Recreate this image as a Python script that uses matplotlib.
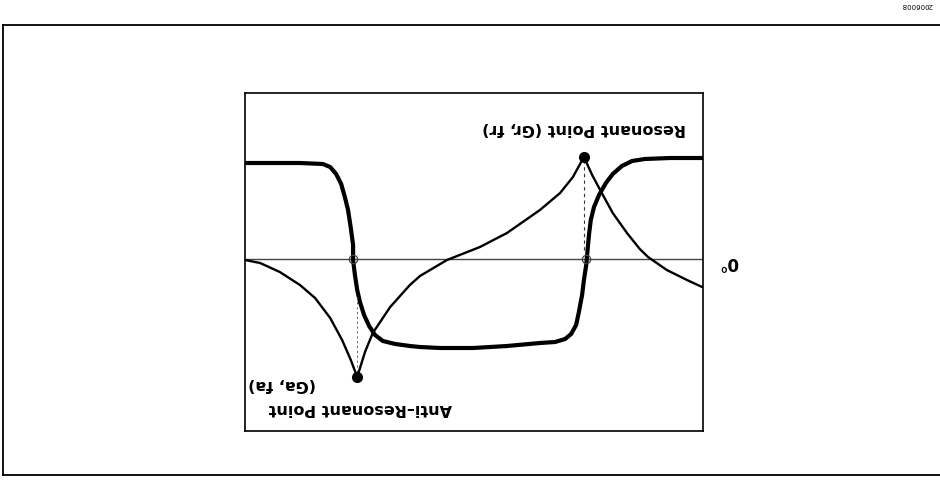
import numpy as np
import matplotlib
matplotlib.use("Agg")
import matplotlib.pyplot as plt

# the scanned page is upside down, so the chart is drawn upright
# (frequency left->right, phase up) and both axes are inverted

# phase curve (heavy line), normalised frequency 0..100 vs degrees
freq_phase = [0.2, 7.2, 12.7, 15.5, 17.7, 19.7, 21.2, 22.7, 23.8, 24.5, 24.9,
              25.3, 25.5, 26.0, 26.4, 27.1, 27.7, 28.8, 30.1, 32.3, 35.6,
              42.8, 50.2, 57.4, 61.8, 64.0, 67.2, 69.9, 71.6, 72.9, 74.0,
              74.9, 75.5, 76.0, 76.4, 76.4, 76.9, 77.5, 78.2, 79.0, 80.1,
              81.4, 83.0, 88.0, 100.0]
phase = [-90.9, -90.9, -90.0, -88.2, -83.7, -76.5, -68.4, -57.6, -46.8, -35.1, -21.6,
         -3.6, 5.4, 18.9, 32.4, 47.7, 59.4, 67.5, 72.0, 74.7, 75.6,
         78.3, 80.1, 80.1, 79.2, 78.3, 76.5, 73.8, 68.4, 60.3, 50.4,
         38.7, 27.9, 14.4, 0.9, -12.6, -27.9, -44.1, -55.8, -67.5, -76.5,
         -82.8, -85.5, -86.4, -86.4]

# impedance curve (thin line)
freq_imp = [0.2, 3.5, 7.9, 12.0, 13.8, 16.6, 19.7, 22.1, 24.2, 26.0,
            28.4, 31.2, 35.6, 42.8, 48.7, 55.9, 61.8, 64.0, 68.3, 72.1,
            73.8, 75.5, 76.9, 78.8, 81.4, 84.7, 88.0, 92.4, 96.7, 100.0]
imp = [25.2, 18.9, 9.9, -1.8, -9.0, -23.4, -41.4, -59.4, -75.6, -91.8,
       -73.8, -59.4, -44.1, -23.4, -10.8, 0.9, 15.3, 23.4, 43.2, 66.6,
       83.7, 106.2, 90.9, 72.9, 53.1, 35.1, 23.4, 11.7, 3.6, 0.9]

# resonant / anti-resonant points
f_r, g_r = 26.0, -91.8
f_a, g_a = 75.5, 106.2
# zero crossings of the phase
f_zero = [25.5, 76.4]

fig = plt.figure(figsize=(9.4, 4.96), dpi=100)

# outer page frame
frame = fig.add_axes([3/940, 1-475/496, 1.0, 450/496])
frame.set_xticks([])
frame.set_yticks([])
frame.spines['right'].set_visible(False)
for s in ['left', 'top', 'bottom']:
    frame.spines[s].set_linewidth(1.3)
frame.patch.set_alpha(0)

ax = fig.add_axes([245/940, 1-431/496, 458/940, 338/496])
ax.set_xlim(100, 0)
ax.set_ylim(154.8, -149.4)
ax.set_xticks([])
ax.set_yticks([])
for s in ax.spines.values():
    s.set_linewidth(1.2)

ax.axhline(0, color='#444444', lw=1.0)
ax.plot(freq_phase, phase, color='black', lw=3.0,
        solid_joinstyle='round', solid_capstyle='round')
ax.plot(freq_imp, imp, color='black', lw=1.7,
        solid_joinstyle='round', solid_capstyle='round')

ax.plot([f_r, f_r], [-89, -5], color='#333333', lw=0.8, ls=(0, (3, 3)))
ax.plot([f_a, f_a], [34, 103], color='#555555', lw=0.7, ls=(0, (2, 3)))

ax.plot([f_r, f_a], [g_r, g_a], 'o', color='black', ms=7)
ax.plot(f_zero, [0, 0], 'o', mfc='none', mec='#444444', ms=6, mew=0.9)

ax.text(26.0, -117.9, "Resonant Point (Gr, fr)", rotation=180,
        ha='center', va='center', fontsize=11.5, fontweight='bold')
ax.text(74.9, 134.1, "Anti\u2013Resonant Point", rotation=180,
        ha='center', va='center', fontsize=11.5, fontweight='bold')
ax.text(91.9, 113.4, "(Ga, fa)", rotation=180,
        ha='center', va='center', fontsize=11.5, fontweight='bold')
ax.text(-5.5, 2.7, "0\u00b0", rotation=180, ha='center', va='center',
        fontsize=12, fontweight='bold', clip_on=False)

fig.text(917/940, 1-5/496, "2006008", rotation=180, ha='center', va='center',
         fontsize=5)

fig.savefig("out.png", dpi=100)
